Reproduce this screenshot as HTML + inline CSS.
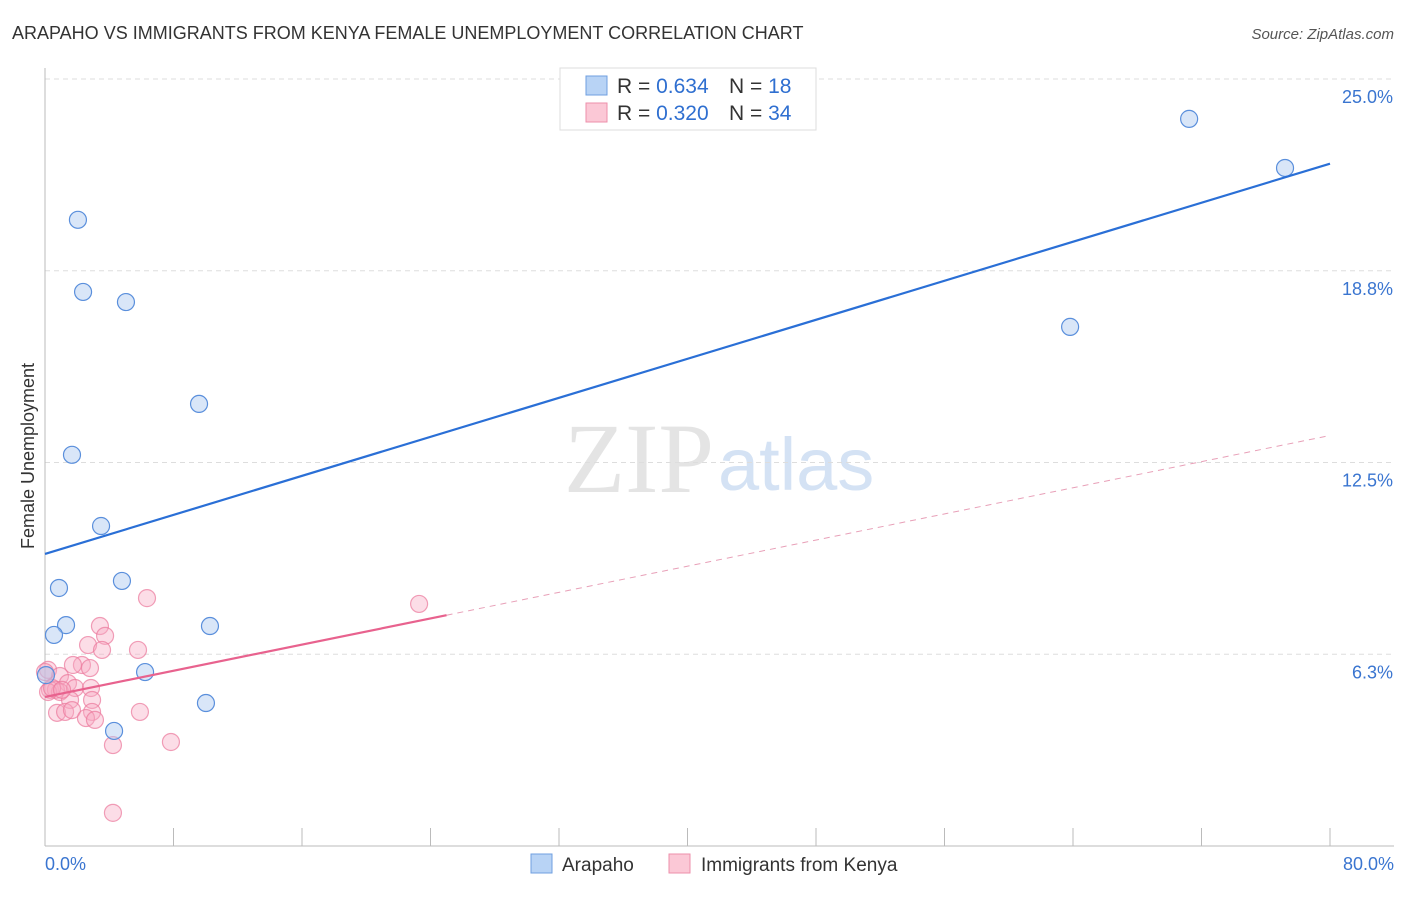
<!DOCTYPE html>
<html><head><meta charset="utf-8"><style>
body{margin:0;background:#fff;font-family:"Liberation Sans",sans-serif;}
svg text{font-family:"Liberation Sans",sans-serif;}
</style></head><body>
<svg id="chart" width="1406" height="892" xmlns="http://www.w3.org/2000/svg">
<text x="12" y="39" font-size="18" fill="#333">ARAPAHO VS IMMIGRANTS FROM KENYA FEMALE UNEMPLOYMENT CORRELATION CHART</text>
<text x="1394" y="39" font-size="15" fill="#555" text-anchor="end" font-style="italic">Source: ZipAtlas.com</text>
<text x="714" y="492" font-size="100" fill="#e4e4e4" text-anchor="end" style="font-family:'Liberation Serif',serif">ZIP</text>
<text x="718" y="490" font-size="74" fill="#d4e2f4">atlas</text>
<g id="grid"></g>
<g id="axes"></g>
<g id="marks"></g>
<text transform="translate(34,456) rotate(-90)" font-size="18" fill="#333" text-anchor="middle">Female Unemployment</text>
<g>
<rect x="560" y="68" width="256" height="62" fill="#fff" stroke="#ddd"/>
<rect x="586" y="76" width="21" height="19" fill="#b8d3f5" stroke="#6f9fe0"/>
<rect x="586" y="103" width="21" height="19" fill="#fbc8d6" stroke="#ee8fab"/>
<text x="617" y="93" font-size="21" fill="#333">R = <tspan fill="#2f6fd0">0.634</tspan></text>
<text x="729" y="93" font-size="21" fill="#333">N = <tspan fill="#2f6fd0"> 18</tspan></text>
<text x="617" y="120" font-size="21" fill="#333">R = <tspan fill="#2f6fd0">0.320</tspan></text>
<text x="729" y="120" font-size="21" fill="#333">N = <tspan fill="#2f6fd0">34</tspan></text>
</g>
<g>
<rect x="531" y="854" width="21" height="19" fill="#b8d3f5" stroke="#6f9fe0"/>
<text x="562" y="871" font-size="19" fill="#333">Arapaho</text>
<rect x="669" y="854" width="21" height="19" fill="#fbc8d6" stroke="#ee8fab"/>
<text x="701" y="871" font-size="19" fill="#333">Immigrants from Kenya</text>
</g>
</svg>
<script>
const yTicks=[6.25,12.5,18.75,25];
const yTickLabels=["6.3%","12.5%","18.8%","25.0%"];
const xTicks=[0,8,16,24,32,40,48,56,64,72,80];
const blueX=[2.05,2.37,5.04,9.59,1.68,3.49,0.87,4.79,1.31,0.56,10.27,6.23,0.06,10.02,4.30,63.82,71.23,77.20];
const blueY=[20.41,18.06,17.73,14.41,12.75,10.43,8.41,8.64,7.20,6.88,7.17,5.67,5.57,4.66,3.75,16.92,23.70,22.10];
const pinkX=[6.35,23.29,3.42,3.74,2.68,3.55,5.79,2.30,1.74,2.80,0.19,0.93,1.43,0.31,0.68,0.93,1.87,2.86,1.56,2.93,0.75,1.25,1.68,2.93,2.55,3.11,5.91,4.23,7.84,4.23,0.19,0.44,0,1.06];
const pinkY=[8.08,7.89,7.17,6.85,6.55,6.39,6.39,5.90,5.90,5.80,5.74,5.54,5.31,5.09,5.09,5.02,5.15,5.15,4.76,4.76,4.34,4.37,4.43,4.37,4.17,4.11,4.37,3.29,3.39,1.08,5.02,5.15,5.67,5.09];
const blueTrend=[9.52,0.159];
const pinkTrend=[4.86,0.1065];
const pinkSolidEnd=25;
const X=v=>45+v/80*1285, Y=v=>846-v/25*767;
const NS="http://www.w3.org/2000/svg";
function mk(p,t,a){const e=document.createElementNS(NS,t);for(const k in a)e.setAttribute(k,a[k]);p.appendChild(e);return e;}
const grid=document.getElementById('grid'),axes=document.getElementById('axes'),marks=document.getElementById('marks');
yTicks.forEach((t,i)=>{
 const l=mk(grid,'line',{x1:45,x2:1394,y1:Y(t),y2:Y(t),stroke:'#ddd','stroke-dasharray':'5,4'});
 
 
 const tx=mk(axes,'text',{x:1393,y:Y(t)+24,'font-size':18,fill:'#3a75d0','text-anchor':'end'});tx.textContent=yTickLabels[i];
 
 
});
const ax=mk(axes,'line',{x1:45,x2:45,y1:68,y2:846,stroke:'#bbb'});


const bx=mk(axes,'line',{x1:45,x2:1394,y1:846,y2:846,stroke:'#bbb'});


xTicks.forEach(t=>{const l=mk(axes,'line',{x1:X(t),x2:X(t),y1:828,y2:846,stroke:'#bbb'});
 
 });
const xl=mk(axes,'text',{x:45,y:870,'font-size':18,fill:'#3a75d0'});xl.textContent='0.0%';


const xr=mk(axes,'text',{x:1394,y:870,'font-size':18,fill:'#3a75d0','text-anchor':'end'});xr.textContent='80.0%';


pinkX.forEach((v,i)=>{const c=mk(marks,'circle',{cx:X(v),cy:Y(pinkY[i]),r:8.5,fill:'rgba(248,170,195,0.4)',stroke:'rgba(235,120,155,0.7)','stroke-width':1.2});
 
 });
blueX.forEach((v,i)=>{const c=mk(marks,'circle',{cx:X(v),cy:Y(blueY[i]),r:8.5,fill:'rgba(170,200,240,0.45)',stroke:'#5a8fdc','stroke-width':1.2});
 
 });
const bl=mk(marks,'line',{x1:X(0),y1:Y(blueTrend[0]),x2:X(80),y2:Y(blueTrend[0]+80*blueTrend[1]),stroke:'#2a6fd6','stroke-width':2.2});


const ps=mk(marks,'line',{x1:X(0),y1:Y(pinkTrend[0]),x2:X(pinkSolidEnd),y2:Y(pinkTrend[0]+pinkSolidEnd*pinkTrend[1]),stroke:'#e8628e','stroke-width':2.2});


const pd=mk(marks,'line',{x1:X(pinkSolidEnd),y1:Y(pinkTrend[0]+pinkSolidEnd*pinkTrend[1]),x2:X(80),y2:Y(pinkTrend[0]+80*pinkTrend[1]),stroke:'#e8a0b8','stroke-width':1,'stroke-dasharray':'6,5'});


</script>
</body></html>
